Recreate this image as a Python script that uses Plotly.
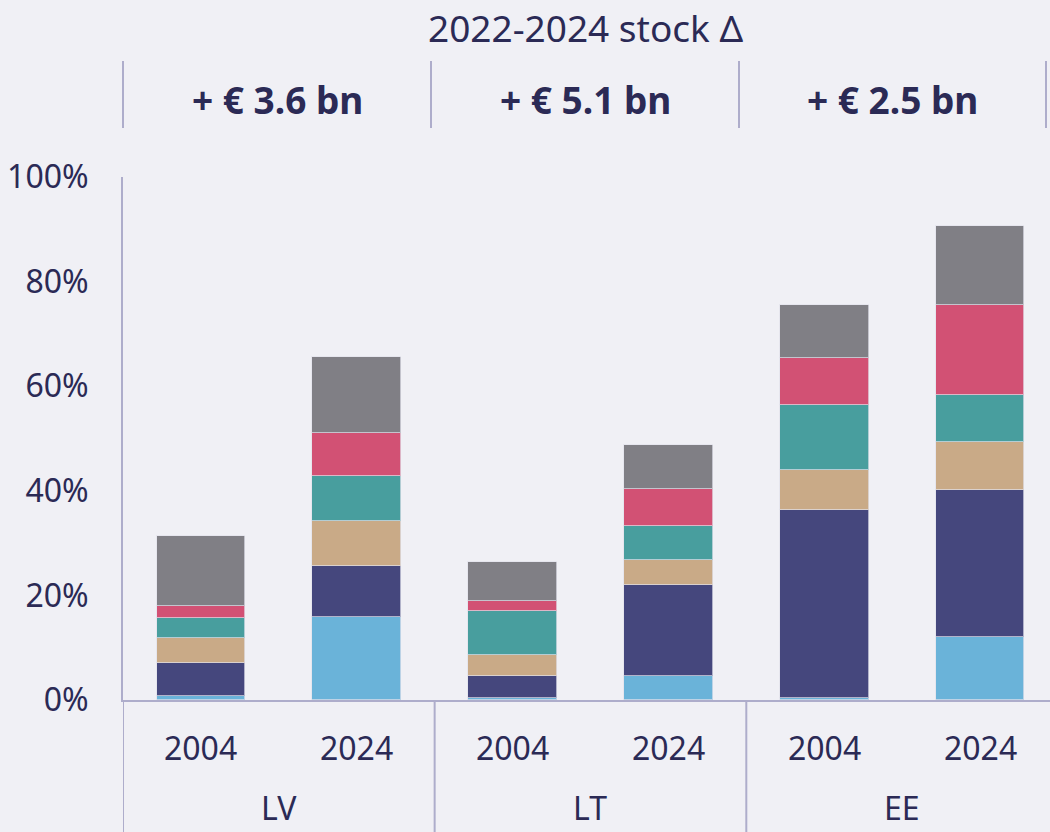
import plotly.graph_objects as go

countries = ["LV", "LT", "EE"]
years = ["2004", "2024"]
header_values = ["+ € 3.6 bn", "+ € 5.1 bn", "+ € 2.5 bn"]
title_text = "2022-2024 stock Δ"

# bar order: LV 2004, LV 2024, LT 2004, LT 2024, EE 2004, EE 2024 (values in %)
seg1 = [0.8, 15.9, 0.4, 4.6, 0.4, 12.0]     # light blue
seg2 = [6.2, 9.7, 4.1, 17.4, 36.0, 28.1]    # navy
seg3 = [4.9, 8.7, 4.1, 4.8, 7.5, 9.3]       # tan
seg4 = [3.7, 8.6, 8.5, 6.5, 12.6, 8.9]      # teal
seg5 = [2.4, 8.2, 1.8, 7.1, 8.8, 17.2]      # pink
seg6 = [13.3, 14.4, 7.4, 8.4, 10.2, 15.1]   # grey

y_ticks = [0, 20, 40, 60, 80, 100]

series = [seg1, seg2, seg3, seg4, seg5, seg6]
colors = ["#6ab3d9", "#45477d", "#c9aa87", "#489e9e", "#d25174", "#807f85"]

TXT = "#2b2a55"
LINE = "#aeadcb"
BG = "#f0f0f5"
FONT = "Noto Sans"

xpos = list(range(len(countries) * len(years)))

fig = go.Figure()
for vals, col in zip(series, colors):
    fig.add_trace(go.Bar(
        x=xpos, y=vals, width=0.57,
        marker=dict(color=col, line=dict(color="rgba(225,225,235,0.7)", width=1)),
        showlegend=False, hoverinfo="skip",
    ))

W, H = 1050, 832
L, R, T, B = 123, 0, 177, 132
pw, ph = W - L - R, H - T - B

def py(pix):
    return (H - B - pix) / ph

def px(pix):
    return (pix - L) / pw

fig.update_layout(
    width=W, height=H, barmode="stack", bargap=0,
    margin=dict(l=L, r=R, t=T, b=B),
    paper_bgcolor=BG, plot_bgcolor=BG,
    font=dict(family=FONT, color=TXT, size=32),
    xaxis=dict(range=[-0.5, 5.449], showticklabels=False, showgrid=False,
               zeroline=False, showline=True, linecolor=LINE, linewidth=2, fixedrange=True),
    yaxis=dict(range=[0, 100], tickvals=y_ticks, ticktext=[f"{v}%" for v in y_ticks],
               showgrid=False, zeroline=False, showline=True, linecolor=LINE, linewidth=2,
               ticks="", ticklabelstandoff=26, tickfont=dict(size=32, color=TXT)),
)

# lower axis lines: left border and group separators
bottom = py(H)
fig.add_shape(type="line", xref="x", yref="paper", x0=-0.5, x1=-0.5, y0=bottom, y1=0,
              line=dict(color=LINE, width=2))
for g in range(1, len(countries)):
    xs = g * len(years) - 0.5
    fig.add_shape(type="line", xref="x", yref="paper", x0=xs, x1=xs, y0=bottom, y1=0,
                  line=dict(color=LINE, width=2))

# year labels and group labels
for i, c in enumerate(countries):
    for j, yr in enumerate(years):
        fig.add_annotation(x=i * len(years) + j, y=py(747), xref="x", yref="paper",
                           text=yr, showarrow=False, font=dict(size=32, color=TXT),
                           xanchor="center", yanchor="middle")
    fig.add_annotation(x=i * len(years) + 0.5, y=py(831), xref="x", yref="paper",
                       text=c, showarrow=False, font=dict(size=32, color=TXT),
                       xanchor="center", yanchor="bottom")

# header
fig.add_annotation(x=px(585), y=py(27), xref="paper", yref="paper", text=title_text,
                   showarrow=False, font=dict(size=37, color=TXT),
                   xanchor="center", yanchor="middle")
hx = [123, 431, 739, 1046]
for xv in hx:
    fig.add_shape(type="line", xref="paper", yref="paper", x0=px(xv), x1=px(xv),
                  y0=py(128), y1=py(61), line=dict(color=LINE, width=2))
for k, t in enumerate(header_values):
    cx = (hx[k] + hx[k + 1]) / 2
    fig.add_annotation(x=px(cx), y=py(99), xref="paper", yref="paper",
                       text=f"<b>{t}</b>", showarrow=False,
                       font=dict(size=37, color=TXT), xanchor="center", yanchor="middle")

fig.write_html(
    "out.html",
    config={"displayModeBar": False},
    post_script="document.body.style.margin='0';document.body.style.background='#f0f0f5';"
                "document.body.style.overflow='hidden';",
)
